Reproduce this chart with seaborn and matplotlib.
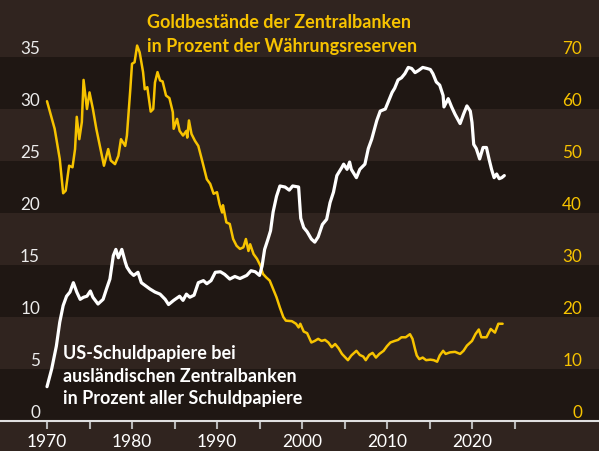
import matplotlib
matplotlib.use("Agg")
import matplotlib.pyplot as plt
import matplotlib.transforms as mtransforms
import seaborn as sns

# Goldbestaende der Zentralbanken, % der Waehrungsreserven (rechte Achse)
gold_year = [1970.0, 1970.9, 1971.5, 1971.9, 1972.2, 1972.6, 1973.0, 1973.3, 1973.5, 1973.8,
             1974.1, 1974.3, 1974.7, 1975.0, 1975.4, 1975.8, 1976.3, 1976.7, 1977.2, 1977.5,
             1978.0, 1978.4, 1978.7, 1979.2, 1979.4, 1979.8, 1980.0, 1980.3, 1980.6, 1980.9,
             1981.3, 1981.5, 1981.8, 1982.2, 1982.5, 1982.7, 1983.0, 1983.3, 1983.6, 1984.0,
             1984.4, 1984.8, 1984.9, 1985.3, 1985.6, 1986.0, 1986.4, 1986.5, 1986.7, 1987.0,
             1987.4, 1987.8, 1988.2, 1988.6, 1988.8, 1989.2, 1989.6, 1990.0, 1990.3, 1990.6,
             1990.7, 1991.1, 1991.5, 1991.9, 1992.3, 1992.7, 1993.1, 1993.4, 1993.7, 1993.9,
             1994.3, 1994.7, 1995.1, 1995.4, 1995.8, 1996.2, 1996.6, 1997.0, 1997.4, 1997.8,
             1998.1, 1998.8, 1999.3, 1999.6, 1999.8, 2000.2, 2000.6, 2001.1, 2001.5, 2001.9,
             2002.3, 2002.7, 2003.1, 2003.5, 2003.9, 2004.3, 2004.7, 2005.1, 2005.4, 2005.8,
             2006.4, 2006.8, 2007.2, 2007.5, 2007.9, 2008.3, 2008.7, 2009.1, 2009.6, 2010.0,
             2010.4, 2010.9, 2011.3, 2011.7, 2012.2, 2012.7, 2013.0, 2013.3, 2013.5, 2013.8,
             2014.2, 2014.6, 2015.1, 2015.5, 2015.9, 2016.2, 2016.6, 2016.9, 2017.4, 2018.0,
             2018.6, 2019.0, 2019.4, 2020.0, 2020.4, 2020.8, 2021.1, 2021.7, 2022.2, 2022.7,
             2023.1, 2023.6]
gold_pct = [61.5, 56.2, 50.4, 43.8, 44.3, 49.1, 48.8, 52.3, 58.5, 54.2,
            57.5, 65.6, 60.0, 63.2, 60.0, 56.2, 52.3, 49.1, 52.3, 50.1,
            49.4, 51.0, 54.2, 52.9, 54.9, 63.8, 68.7, 69.0, 72.2, 70.9,
            67.1, 63.8, 64.2, 59.5, 60.0, 65.1, 67.1, 65.5, 65.3, 62.6,
            62.1, 59.4, 56.2, 58.1, 55.8, 54.9, 55.8, 54.5, 57.8, 55.2,
            53.9, 52.9, 50.4, 47.8, 46.5, 45.6, 43.7, 44.0, 41.7, 40.1,
            41.5, 38.2, 37.9, 35.0, 33.7, 33.1, 33.4, 35.0, 32.7, 34.0,
            32.1, 31.2, 29.9, 28.3, 27.6, 27.0, 25.4, 23.8, 21.8, 20.0,
            19.3, 19.2, 18.7, 18.0, 18.7, 17.2, 16.9, 15.1, 15.4, 15.8,
            15.4, 15.6, 15.1, 14.2, 14.8, 14.0, 12.9, 12.2, 11.7, 12.6,
            13.5, 12.7, 12.4, 11.7, 12.7, 13.1, 12.2, 12.9, 13.5, 14.4,
            15.1, 15.4, 15.6, 16.1, 16.1, 16.7, 15.8, 13.8, 12.6, 11.9,
            12.2, 11.7, 11.8, 11.7, 11.4, 12.6, 13.5, 12.9, 13.2, 13.3,
            12.9, 13.5, 14.5, 15.4, 16.7, 17.6, 16.1, 16.1, 17.7, 17.0,
            18.7, 18.7]

# US-Schuldpapiere bei auslaendischen Zentralbanken, % (linke Achse)
us_year = [1970.0, 1970.55, 1971.1, 1971.5, 1971.9, 1972.3, 1972.7, 1973.1, 1973.5, 1973.9,
           1974.3, 1974.7, 1975.1, 1975.4, 1976.0, 1976.6, 1977.0, 1977.4, 1977.8, 1978.1,
           1978.4, 1978.8, 1979.2, 1979.4, 1979.8, 1980.2, 1980.7, 1981.1, 1981.6, 1982.1,
           1982.7, 1983.3, 1983.9, 1984.3, 1984.9, 1985.6, 1986.0, 1986.4, 1986.8, 1987.3,
           1987.8, 1988.4, 1988.8, 1989.3, 1989.8, 1990.4, 1990.9, 1991.5, 1992.1, 1992.7,
           1993.5, 1994.0, 1994.5, 1995.0, 1995.3, 1995.6, 1996.0, 1996.3, 1996.6, 1997.0,
           1997.4, 1998.0, 1998.5, 1998.9, 1999.6, 1999.85, 2000.2, 2000.6, 2001.1, 2001.5,
           2001.9, 2002.4, 2002.9, 2003.3, 2003.7, 2004.1, 2004.7, 2004.9, 2005.3, 2005.6,
           2005.8, 2006.4, 2006.8, 2007.4, 2007.8, 2008.2, 2008.8, 2009.2, 2009.8, 2010.2,
           2010.6, 2010.9, 2011.3, 2011.7, 2012.1, 2012.5, 2012.9, 2013.3, 2013.7, 2014.2,
           2014.7, 2015.1, 2015.4, 2015.8, 2016.2, 2016.6, 2016.7, 2017.2, 2017.6, 2018.0,
           2018.6, 2019.0, 2019.4, 2019.8, 2020.0, 2020.2, 2020.5, 2020.9, 2021.3, 2021.7,
           2022.0, 2022.3, 2022.6, 2022.9, 2023.2, 2023.5, 2023.8]
us_pct = [3.3, 5.0, 7.2, 9.5, 11.1, 12.0, 12.4, 13.3, 12.4, 11.7,
          11.9, 12.0, 12.5, 11.9, 11.25, 11.7, 12.7, 13.65, 15.9, 16.5,
          15.7, 16.5, 15.3, 14.8, 14.3, 14.0, 14.3, 13.3, 13.0, 12.7,
          12.4, 12.2, 11.7, 11.2, 11.6, 12.0, 11.6, 12.2, 11.9, 12.1,
          13.3, 13.5, 13.2, 13.5, 14.3, 14.35, 14.1, 13.65, 13.9, 13.7,
          14.0, 14.45, 14.35, 14.0, 14.9, 16.5, 17.5, 18.3, 20.1, 21.6,
          22.6, 22.5, 22.2, 22.6, 22.5, 19.5, 18.6, 18.2, 17.5, 17.2,
          17.7, 18.9, 19.4, 21.0, 22.0, 23.6, 24.4, 24.7, 24.2, 24.9,
          24.2, 23.4, 24.2, 24.7, 26.2, 27.1, 28.9, 29.8, 30.0, 30.8,
          31.6, 32.0, 32.8, 33.0, 33.4, 34.0, 33.9, 33.5, 33.7, 34.0,
          33.9, 33.8, 33.4, 32.6, 32.3, 31.3, 30.2, 31.0, 30.2, 29.5,
          28.6, 29.5, 30.3, 29.8, 28.7, 26.6, 26.2, 25.2, 26.3, 26.3,
          25.2, 24.2, 23.4, 23.75, 23.3, 23.4, 23.6]

left_ticks = [0, 5, 10, 15, 20, 25, 30, 35]
right_ticks = [0, 10, 20, 30, 40, 50, 60, 70]
x_ticks = [1970, 1975, 1980, 1985, 1990, 1995, 2000, 2005, 2010, 2015, 2020, 2025]
x_labels = ['1970', '', '1980', '', '1990', '', '2000', '', '2010', '', '2020', '']

BG_LIGHT = '#30241f'
BG_DARK = '#1f1713'
GOLD = '#f7c300'

sns.set_style('dark', rc={'axes.facecolor': BG_LIGHT, 'figure.facecolor': BG_LIGHT})
plt.rcParams['font.family'] = ['Lato', 'DejaVu Sans']

fig = plt.figure(figsize=(5.99, 4.52), dpi=100)
ax = fig.add_axes([0, 30 / 452, 1, 422 / 452])
ax.set_ylim(0, 40.58)
for lo in left_ticks[::2]:
    ax.axhspan(lo, lo + 5, color=BG_DARK, lw=0, zorder=0)

g = ax.twinx()
sns.lineplot(x=gold_year, y=gold_pct, ax=g, color=GOLD, lw=1.8, estimator=None)
g.set_ylim(0, 81.16)
g.axis('off')

w = ax.twinx()
sns.lineplot(x=us_year, y=us_pct, ax=w, color='white', lw=2.3, estimator=None)
w.set_ylim(ax.get_ylim())
w.axis('off')

ax.set_xlim(1964.47, 2034.94)
ax.grid(False)
for side in ['left', 'right', 'top']:
    ax.spines[side].set_visible(False)
ax.spines['bottom'].set_color('#e0e0e0')
ax.spines['bottom'].set_linewidth(1.5)
ax.set_yticks([])
ax.set_xticks(x_ticks)
ax.set_xticklabels(x_labels)
ax.tick_params(axis='x', direction='out', length=5.5, width=1.5, color='#b8b8b8',
               labelcolor='white', labelsize=12.5, pad=3, bottom=True)

# Achsenbeschriftung oberhalb der Baender
trans = mtransforms.offset_copy(ax.get_yaxis_transform(), fig=fig, y=3, units='points')
for v, r in zip(left_ticks, right_ticks):
    ax.text(40 / 599, v, str(v), transform=trans, ha='right', va='baseline',
            color='#ececec', fontsize=12.3)
    ax.text(582 / 599, v, str(r), transform=trans, ha='right', va='baseline',
            color=GOLD, fontsize=12.3)

fig.text(147 / 599, 1 - 28 / 452, 'Goldbestände der Zentralbanken', color=GOLD,
         fontsize=13, fontweight='bold', va='baseline')
fig.text(147 / 599, 1 - 52 / 452, 'in Prozent der Währungsreserven', color=GOLD,
         fontsize=13, fontweight='bold', va='baseline')

fig.text(63 / 599, 1 - 359 / 452, 'US-Schuldpapiere bei', color='white',
         fontsize=13, fontweight='bold', va='baseline')
fig.text(63 / 599, 1 - 382 / 452, 'ausländischen Zentralbanken', color='white',
         fontsize=13, fontweight='bold', va='baseline')
fig.text(63 / 599, 1 - 404 / 452, 'in Prozent aller Schuldpapiere', color='white',
         fontsize=13, fontweight='bold', va='baseline')

fig.savefig('out.png', dpi=100, facecolor=BG_LIGHT)
